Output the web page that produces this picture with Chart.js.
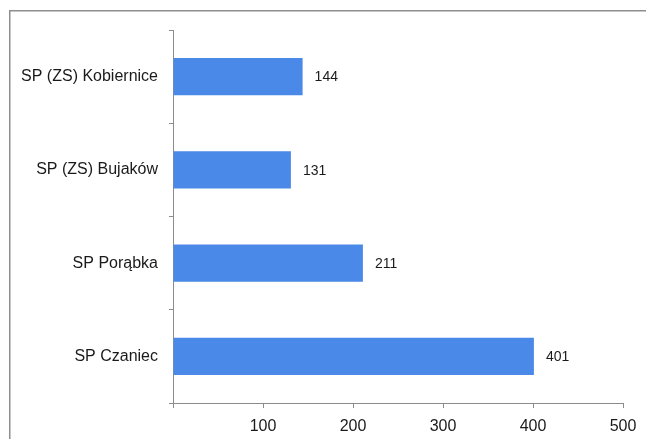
<!DOCTYPE html>
<html>
<head>
<meta charset="utf-8">
<script src="https://cdn.jsdelivr.net/npm/chart.js@4/dist/chart.umd.min.js"></script>
<style>
  html, body { margin: 0; padding: 0; background: #fff; overflow: hidden; }
  canvas { display: block; }
</style>
</head>
<body>
<canvas id="chart" width="646" height="439"></canvas>
<script>
/* ------------ DATA ------------ */
const schools = ['SP (ZS) Kobiernice', 'SP (ZS) Bujaków', 'SP Porąbka', 'SP Czaniec'];
const pupils = [144, 131, 211, 401];
const xTicks = [0, 100, 200, 300, 400, 500];

const axisGray = '#8c8c8c';
const font = 'Arial, "Liberation Sans", sans-serif';

/* outer frame: only top and left edges are inside the picture */
const frame = {
  id: 'frame',
  beforeDraw(chart) {
    const ctx = chart.ctx;
    ctx.save();
    ctx.strokeStyle = '#8e8e8e';
    ctx.lineWidth = 1.5;
    ctx.beginPath();
    ctx.moveTo(9.75, chart.height + 5);
    ctx.lineTo(9.75, 10.75);
    ctx.lineTo(chart.width + 5, 10.75);
    ctx.stroke();
    ctx.restore();
  }
};

/* value labels at bar ends */
const valueLabels = {
  id: 'valueLabels',
  afterDatasetsDraw(chart) {
    const ctx = chart.ctx;
    const meta = chart.getDatasetMeta(0);
    ctx.save();
    ctx.font = '14px ' + font;
    ctx.fillStyle = '#1a1a1a';
    ctx.textBaseline = 'middle';
    ctx.textAlign = 'left';
    meta.data.forEach((bar, i) => {
      ctx.fillText(String(pupils[i]), bar.x + 12, bar.y + 1);
    });
    ctx.restore();
  }
};

new Chart(document.getElementById('chart'), {
  type: 'bar',
  data: {
    labels: schools,
    datasets: [{
      data: pupils,
      backgroundColor: '#4a89e7',
      borderWidth: 0,
      barPercentage: 0.4,
      categoryPercentage: 1
    }]
  },
  options: {
    indexAxis: 'y',
    responsive: false,
    animation: false,
    devicePixelRatio: 1,
    layout: { padding: { top: 30, right: 23, left: 0, bottom: 0 } },
    plugins: { legend: { display: false }, tooltip: { enabled: false } },
    scales: {
      x: {
        min: 0,
        max: 500,
        afterBuildTicks: s => { s.ticks = xTicks.map(v => ({ value: v })); },
        afterFit: s => { s.height = 36; },
        border: { display: true, color: axisGray, width: 1 },
        grid: { drawOnChartArea: false, drawTicks: true, tickLength: 5, color: axisGray },
        ticks: {
          color: '#1a1a1a',
          font: { family: font, size: 16 },
          padding: 9,
          maxRotation: 0,
          callback: v => (v === 0 ? '' : String(v))
        }
      },
      y: {
        afterFit: s => { s.width = 173; },
        border: { display: true, color: axisGray, width: 1 },
        grid: { drawOnChartArea: false, drawTicks: true, tickLength: 4, color: axisGray, offset: true },
        ticks: {
          color: '#1a1a1a',
          font: { family: font, size: 16 },
          padding: 11
        }
      }
    }
  },
  plugins: [frame, valueLabels]
});
</script>
</body>
</html>
